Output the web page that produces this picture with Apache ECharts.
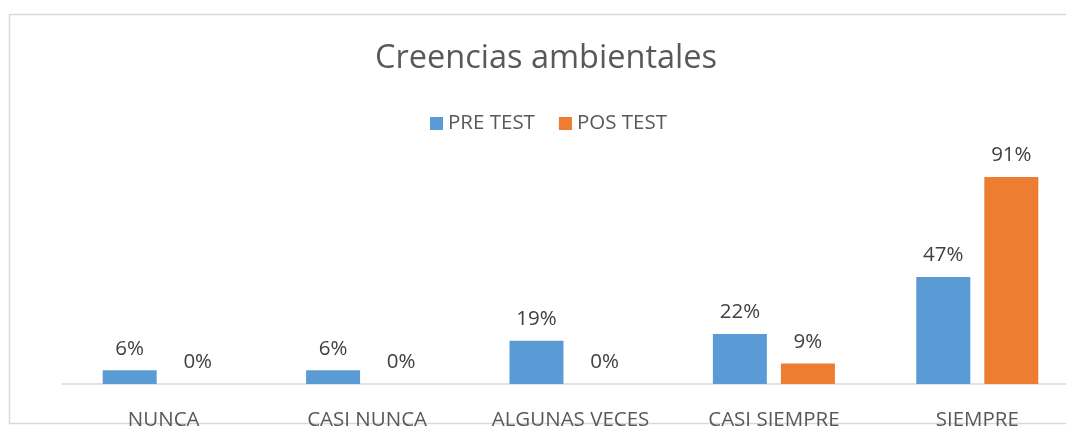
<!DOCTYPE html>
<html><head><meta charset="utf-8">
<script src="https://cdn.jsdelivr.net/npm/echarts@6/dist/echarts.min.js"></script>
<style>html,body{margin:0;padding:0;background:#fff}#c{width:1066px;height:426px}</style>
</head><body><div id="c"></div>
<script>
const categories = ['NUNCA', 'CASI NUNCA', 'ALGUNAS VECES', 'CASI SIEMPRE', 'SIEMPRE'];
const preTest = [6, 6, 19, 22, 47];
const posTest = [0, 0, 0, 9, 91];
const seriesNames = ['PRE TEST', 'POS TEST'];

const chart = echarts.init(document.getElementById('c'));
const font = 'Open Sans';
const lbl = {show: true, position: 'top', distance: 11, formatter: '{c}%', color: '#404040', fontSize: 20.5, fontFamily: font};
chart.setOption({
  animation: false,
  title: {text: 'Creencias ambientales', left: 541, textAlign: 'center', top: 37,
    textStyle: {fontFamily: font, fontWeight: 'normal', fontSize: 32.5, color: '#595959'}},
  legend: {data: seriesNames, top: 108, left: 425, itemWidth: 13, itemHeight: 13, itemGap: 24,
    icon: 'rect', textStyle: {fontFamily: font, fontSize: 20.5, color: '#595959'}},
  graphic: [{type: 'rect', shape: {x: 9.5, y: 14.5, width: 1080, height: 409}, style: {fill: 'none', stroke: '#d9d9d9', lineWidth: 1.5}, silent: true}],
  grid: {left: 62, width: 1017, top: 156.5, height: 227.5, outerBoundsMode: 'none', containLabel: false},
  xAxis: {type: 'category', data: categories,
    axisLine: {lineStyle: {color: '#d9d9d9', width: 1.5}}, axisTick: {show: false},
    axisLabel: {interval: 0, color: '#595959', fontSize: 20.5, fontFamily: font, margin: 26}},
  yAxis: {type: 'value', min: 0, max: 100, show: false, splitLine: {show: false}},
  series: [
    {name: seriesNames[0], type: 'bar', data: preTest, barWidth: 54, barGap: '26%', itemStyle: {color: '#5b9bd5'}, label: lbl},
    {name: seriesNames[1], type: 'bar', data: posTest, barWidth: 54, itemStyle: {color: '#ed7d31'}, label: lbl}
  ]
});
</script></body></html>
